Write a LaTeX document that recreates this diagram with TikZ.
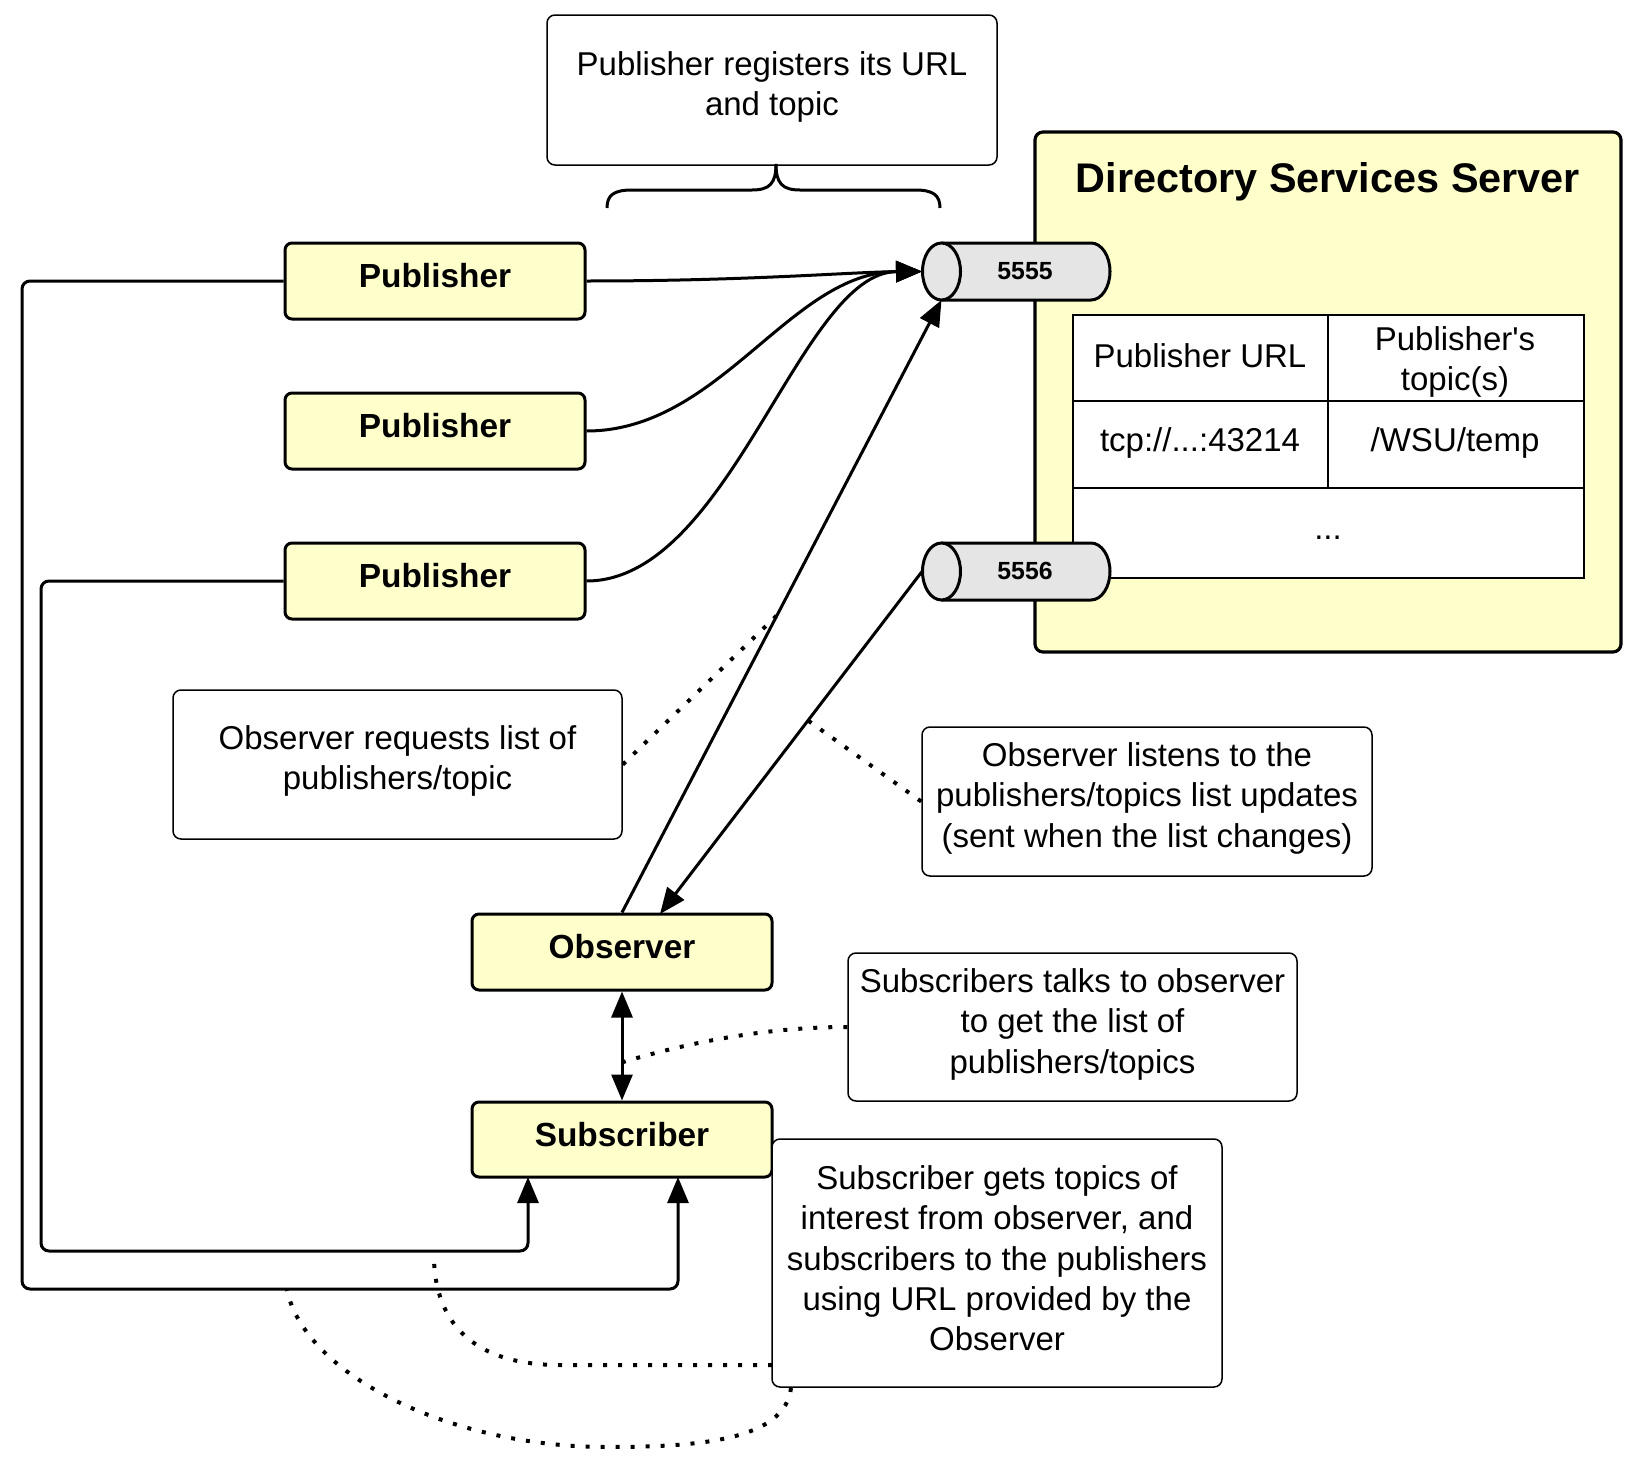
\documentclass[tikz,border=0pt]{standalone}
\usepackage{fontspec}
\setmainfont{Liberation Sans}
\newfontfamily\plainfont{Liberation Sans}[Ligatures=TeXOff]
\usetikzlibrary{arrows.meta}
\definecolor{boxyellow}{RGB}{255,255,204}
\definecolor{cylgray}{RGB}{229,229,229}
\begin{document}
\begin{tikzpicture}[x=0.5pt,y=-0.5pt,
  ybox/.style={draw, line width=1.5pt, fill=boxyellow, rounded corners=3.5pt, minimum width=150pt, minimum height=38pt, inner sep=0pt, text height=12.4pt, text depth=5.6pt, font=\fontsize{16.7pt}{20pt}\selectfont\bfseries},
  notebox/.style={draw, line width=0.75pt, fill=white, rounded corners=4pt, inner sep=0pt},
  notetext/.style={inner sep=0pt, align=center, font=\fontsize{16.5pt}{20.2pt}\selectfont},
  celltext/.style={inner sep=0pt, align=center, font=\fontsize{16.5pt}{20.2pt}\selectfont},
  portlabel/.style={inner sep=0pt, font=\fontsize{12.4pt}{14pt}\selectfont\bfseries},
  conn/.style={line width=1.5pt, -{Triangle[length=13pt,width=10.5pt]}},
  dotline/.style={line width=2pt, dash pattern=on 2pt off 5.5pt},
  cylline/.style={line width=1.5pt}
]
\useasboundingbox (0,0) rectangle (1651,1467);

% Directory Services Server
\node[draw, line width=1.6pt, fill=boxyellow, rounded corners=4pt, minimum width=293pt, minimum height=260pt, inner sep=0pt] (server) at (1328,392) {};
\node[inner sep=0pt, font=\fontsize{20.7pt}{24pt}\selectfont\bfseries] (srvtitle) at (1328,182) {Directory Services Server};

% table
\draw[line width=1pt, fill=white] (1073,315) rectangle (1584,578);
\draw[line width=1pt] (1073,401) -- (1584,401);
\draw[line width=1pt] (1073,488) -- (1584,488);
\draw[line width=1pt] (1328,315) -- (1328,488);
\node[celltext] (t11) at (1200,356) {Publisher URL};
\node[celltext] (t12) at (1455,362) {{\plainfont Publisher's}\\topic(s)};
\node[celltext] (t21) at (1200,443) {tcp://...:43214};
\node[celltext] (t22) at (1455,443) {/WSU/temp};
\node[celltext, anchor=base] (t3) at (1328,539) {...};

% cylinder 5555
\fill[cylgray] (941.5,243) -- (1091,243) .. controls (1101.5,243) and (1110,255.76) .. (1110,271.5) .. controls (1110,287.24) and (1101.5,300) .. (1091,300) -- (941.5,300) -- cycle;
\draw[cylline] (941.5,243) -- (1091,243) .. controls (1101.5,243) and (1110,255.76) .. (1110,271.5) .. controls (1110,287.24) and (1101.5,300) .. (1091,300) -- (941.5,300);
\draw[cylline, fill=cylgray] (941.5,271.5) ellipse [x radius=9.5pt, y radius=14.25pt];
\node[portlabel] (port1) at (1025,271) {5555};
\coordinate (c1w) at (922,271.5);
\coordinate (c1s) at (941.5,300);

% cylinder 5556
\fill[cylgray] (941.5,543) -- (1091,543) .. controls (1101.5,543) and (1110,555.76) .. (1110,571.5) .. controls (1110,587.24) and (1101.5,600) .. (1091,600) -- (941.5,600) -- cycle;
\draw[cylline] (941.5,543) -- (1091,543) .. controls (1101.5,543) and (1110,555.76) .. (1110,571.5) .. controls (1110,587.24) and (1101.5,600) .. (1091,600) -- (941.5,600);
\draw[cylline, fill=cylgray] (941.5,571.5) ellipse [x radius=9.5pt, y radius=14.25pt];
\node[portlabel] (port2) at (1025,571) {5556};
\coordinate (c2w) at (922,571.5);

% top note and brace
\node[notebox, minimum width=225pt, minimum height=75pt] (regnote) at (772,90) {};
\node[notetext] (regnotetext) at ([yshift=1.6pt]regnote.center) {Publisher registers its URL\\and topic};
\draw[line width=1.5pt] (607,208) .. controls (607,195) and (614,190) .. (632,190) -- (752,190) .. controls (770,190) and (776,183) .. (776,164);
\draw[line width=1.5pt] (776,164) .. controls (776,183) and (782,190) .. (800,190) -- (915,190) .. controls (933,190) and (940,195) .. (940,208);

% publishers
\node[ybox] (p1) at (435,281) {Publisher};
\node[ybox] (p2) at (435,431) {Publisher};
\node[ybox] (p3) at (435,581) {Publisher};

% observer / subscriber
\node[ybox] (obs) at (622,952) {Observer};
\node[ybox, minimum height=37.5pt] (sub) at (622,1139.5) {Subscriber};
\coordinate (obsne) at (660,914);
\coordinate (subL) at (528,1177);
\coordinate (subR) at (678,1177);

% notes
\node[notebox, minimum width=224.5pt, minimum height=74.5pt] (obsreq) at (397.5,764.5) {};
\node[notetext] (obsreqtext) at ([yshift=1.85pt]obsreq.center) {Observer requests list of\\publishers/topic};
\node[notebox, minimum width=225pt, minimum height=74.5pt] (obslis) at (1147,801.5) {};
\node[notetext] (obslistext) at ([yshift=1.6pt]obslis.center) {Observer listens to the\\publishers/topics list updates\\(sent when the list changes)};
\node[notebox, minimum width=224.5pt, minimum height=74pt] (subtalk) at (1072.5,1027) {};
\node[notetext] (subtalktext) at ([yshift=1.3pt]subtalk.center) {Subscribers talks to observer\\to get the list of\\publishers/topics};
\node[notebox, minimum width=225pt, minimum height=124pt] (subgets) at (997,1263) {};
\node[notetext] (subgetstext) at ([yshift=2.4pt]subgets.center) {Subscriber gets topics of\\interest from observer, and\\subscribers to the publishers\\using URL provided by the\\Observer};
\coordinate (sg1) at (772,1365);
\coordinate (sg2) at (791,1388);

% publisher -> 5555
\draw[conn] (p1.east) .. controls (750,281) and (850,272) .. (c1w);
\draw[conn] (p2.east) .. controls (720,431) and (790,272) .. (c1w);
\draw[conn] (p3.east) .. controls (730,581) and (800,272) .. (c1w);

% observer links
\draw[conn] (obs.north) -- (c1s) coordinate[pos=0.4853] (onl);
\draw[conn] (c2w) -- (obsne) coordinate[pos=0.435] (odl);
\draw[line width=1.5pt, {Triangle[length=13pt,width=10.5pt]}-{Triangle[length=13pt,width=10.5pt]}] (obs.south) -- (sub.north) coordinate[pos=0.65] (osl);

% publishers -> subscriber
\draw[conn, rounded corners=4pt] (p1.west) -- (22,281) -- (22,1289) -- (678,1289) -- (subR);
\draw[conn, rounded corners=4pt] (p3.west) -- (41,581) -- (41,1251) -- (528,1251) -- (subL);
\coordinate (l1end) at (434,1260);
\coordinate (l2end) at (287,1290);

% dotted callout lines
\draw[dotline] (obsreq.east) -- (onl);
\draw[dotline] (obslis.west) -- (odl);
\draw[dotline] (subtalk.west) .. controls (760,1027) and (680,1045) .. (osl);
\draw[dotline] (sg1) -- (560,1365) .. controls (470,1365) and (436,1320) .. (l1end);
\draw[dotline] (sg2) .. controls (785,1440) and (700,1447) .. (607,1447) .. controls (450,1447) and (305,1375) .. (l2end);
\end{tikzpicture}
\end{document}
